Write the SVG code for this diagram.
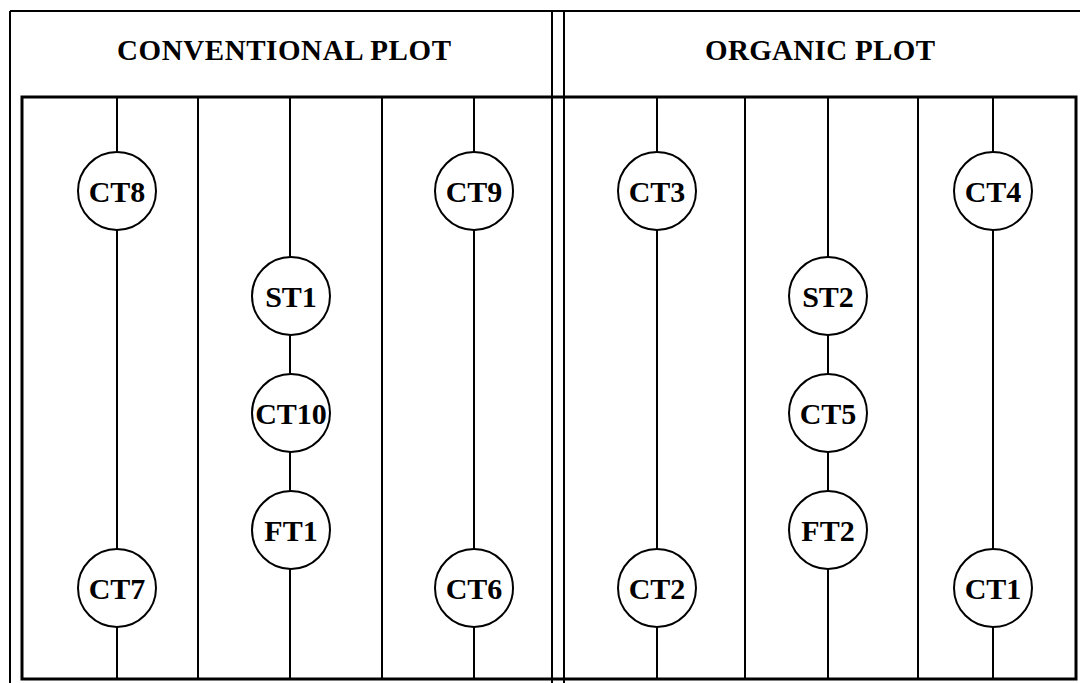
<svg xmlns="http://www.w3.org/2000/svg" width="1080" height="683" viewBox="0 0 1080 683">
  <style>
    .frame { fill: none; stroke: #000; stroke-width: 2; }
    .box { fill: none; stroke: #000; stroke-width: 3; }
    .line { stroke: #000; stroke-width: 2; fill: none; }
    .node circle { fill: #fff; stroke: #000; stroke-width: 2; }
    .node text { font-family: "Liberation Serif", "Times New Roman", serif; font-weight: bold; font-size: 30px; text-anchor: middle; fill: #000; }
    .title { font-family: "Liberation Serif", "Times New Roman", serif; font-weight: bold; font-size: 29px; fill: #000; }
  </style>
  <rect x="0" y="0" width="1080" height="683" fill="#fff"/>

  <!-- outer frame and plot divider -->
  <g id="frame">
    <line class="frame" x1="10" y1="11" x2="1080" y2="11"/>
    <line class="frame" x1="10" y1="11" x2="10" y2="683"/>
    <line class="frame" x1="552" y1="11" x2="552" y2="683"/>
    <line class="frame" x1="564" y1="11" x2="564" y2="683"/>
    <rect class="box" x="22" y="97" width="1054" height="582"/>
  </g>

  <!-- headings -->
  <text class="title" x="117" y="60" textLength="334" lengthAdjust="spacing">CONVENTIONAL PLOT</text>
  <text class="title" x="705" y="60" textLength="230" lengthAdjust="spacing">ORGANIC PLOT</text>

  <!-- rows and bed boundaries -->
  <g id="connectors">
    <line class="line" x1="198" y1="97" x2="198" y2="679"/>
    <line class="line" x1="382" y1="97" x2="382" y2="679"/>
    <line class="line" x1="745" y1="97" x2="745" y2="679"/>
    <line class="line" x1="918" y1="97" x2="918" y2="679"/>
    <line class="line" x1="117" y1="97" x2="117" y2="679"/>
    <line class="line" x1="290" y1="97" x2="290" y2="679"/>
    <line class="line" x1="474" y1="97" x2="474" y2="679"/>
    <line class="line" x1="657" y1="97" x2="657" y2="679"/>
    <line class="line" x1="828" y1="97" x2="828" y2="679"/>
    <line class="line" x1="993" y1="97" x2="993" y2="679"/>
  </g>

  <!-- sampling points -->
  <g id="CT8" class="node"><circle cx="117" cy="191" r="39"/><text x="117" y="202">CT8</text></g>
  <g id="CT7" class="node"><circle cx="117" cy="588" r="39"/><text x="117" y="599">CT7</text></g>
  <g id="ST1" class="node"><circle cx="291" cy="296" r="39"/><text x="291" y="307">ST1</text></g>
  <g id="CT10" class="node"><circle cx="291" cy="413" r="39"/><text x="291" y="424">CT10</text></g>
  <g id="FT1" class="node"><circle cx="291" cy="530" r="39"/><text x="291" y="541">FT1</text></g>
  <g id="CT9" class="node"><circle cx="474" cy="191" r="39"/><text x="474" y="202">CT9</text></g>
  <g id="CT6" class="node"><circle cx="474" cy="588" r="39"/><text x="474" y="599">CT6</text></g>
  <g id="CT3" class="node"><circle cx="657" cy="191" r="39"/><text x="657" y="202">CT3</text></g>
  <g id="CT2" class="node"><circle cx="657" cy="588" r="39"/><text x="657" y="599">CT2</text></g>
  <g id="ST2" class="node"><circle cx="828" cy="296" r="39"/><text x="828" y="307">ST2</text></g>
  <g id="CT5" class="node"><circle cx="828" cy="413" r="39"/><text x="828" y="424">CT5</text></g>
  <g id="FT2" class="node"><circle cx="828" cy="530" r="39"/><text x="828" y="541">FT2</text></g>
  <g id="CT4" class="node"><circle cx="993" cy="191" r="39"/><text x="993" y="202">CT4</text></g>
  <g id="CT1" class="node"><circle cx="993" cy="588" r="39"/><text x="993" y="599">CT1</text></g>
</svg>
